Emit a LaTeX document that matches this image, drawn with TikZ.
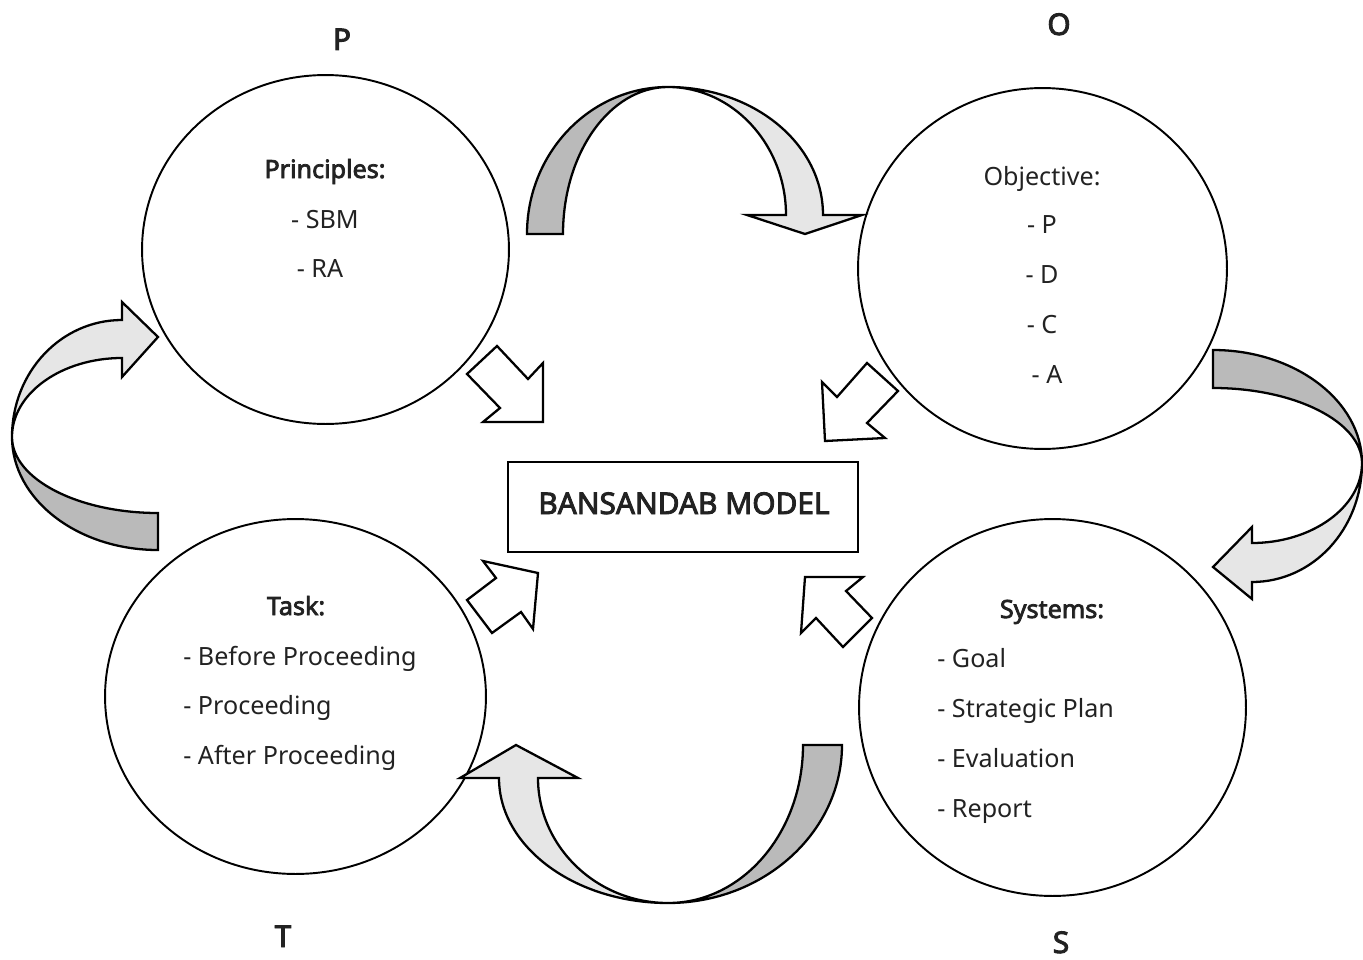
\documentclass[tikz,border=0pt]{standalone}
\usepackage{fontspec}
\setmainfont{Noto Sans}[AutoFakeBold=3]
\usetikzlibrary{shapes.geometric}
\definecolor{bandDark}{HTML}{BABABA}
\definecolor{bandLight}{HTML}{E6E6E6}
\definecolor{ink}{HTML}{222222}

\begin{document}
\begin{tikzpicture}
		[x=0.02cm, y=-0.02cm,
		circ/.style={draw, ellipse, line width=1.1pt, inner sep=0pt},
		item/.style={font=\fontsize{14.3}{17}\selectfont, text=ink, inner sep=0pt},
		head/.style={item, font=\fontsize{14.3}{17}\selectfont\bfseries},
		letter/.style={font=\fontsize{17}{20}\selectfont\bfseries, text=ink, inner sep=0pt},
		back/.style={fill=bandDark, draw, line width=1.3pt},
		front/.style={fill=bandLight, draw, line width=1.3pt},
		push/.style={fill=white, draw, line width=1.3pt}]
		\useasboundingbox (0,0) rectangle (1363,960);
		% the four parts
		\node[circ, minimum width=7.34cm, minimum height=6.98cm] (p) at (325.5,249.5) {};
		\node[circ, minimum width=7.38cm, minimum height=7.22cm] (o) at (1042.5,268.5) {};
		\node[circ, minimum width=7.62cm, minimum height=7.10cm] (t) at (295.5,696.5) {};
		\node[circ, minimum width=7.74cm, minimum height=7.54cm] (s) at (1052.5,707.5) {};
		\node[draw, line width=1.2pt, minimum width=7cm, minimum height=1.8cm] (model) at (683,507) {};
		% curved arrows P -> O -> S -> T -> P
		\draw[back] (527,234) .. controls (527,153) and (590,87) .. (668,87)
			.. controls (610,87) and (563,153) .. (563,234) -- cycle;
		\draw[front] (668,87) .. controls (754,87) and (823,144) .. (823,215)
			-- (862,215) -- (805,234) -- (747,215) -- (786,215)
			.. controls (786,145) and (733,87) .. (668,87) -- cycle;
		\draw[back] (1213,350) .. controls (1295,350) and (1362,401) .. (1362,463)
			.. controls (1362,422) and (1295,388) .. (1213,388) -- cycle;
		\draw[front] (1362,463) .. controls (1362,529) and (1313,582) .. (1252,582)
			-- (1252,599) -- (1213,567) -- (1252,527) -- (1252,543)
			.. controls (1312,543) and (1362,507) .. (1362,463) -- cycle;
		\draw[back] (842,745) .. controls (842,832) and (764,903) .. (668,903)
			.. controls (743,903) and (803,832) .. (803,745) -- cycle;
		\draw[front] (668,903) .. controls (575,903) and (499,847) .. (499,778)
			-- (460,778) -- (516,745) -- (578,778) -- (538,778)
			.. controls (538,846) and (596,903) .. (668,903) -- cycle;
		\draw[back] (158,550) .. controls (77,550) and (12,499) .. (12,437)
			.. controls (12,479) and (78,513) .. (158,513) -- cycle;
		\draw[front] (12,437) .. controls (12,372) and (61,320) .. (122,320)
			-- (122,302) -- (158,337) -- (122,377) -- (122,358)
			.. controls (62,358) and (12,393) .. (12,437) -- cycle;
		% block arrows into the model
		\draw[push] (497,346) -- (528,379) -- (543,363) -- (543,422) -- (483,422) -- (500,408) -- (467,374) -- cycle;
		\draw[push] (867,363) -- (898,391) -- (867,423) -- (885,438) -- (825,441) -- (822,382) -- (837,397) -- cycle;
		\draw[push] (483,561) -- (538,573) -- (533,629) -- (521,612) -- (492,633) -- (467,600) -- (496,578) -- cycle;
		\draw[push] (805,577) -- (863,577) -- (846,591) -- (872,618) -- (843,647) -- (816,618) -- (801,633) -- cycle;
		% texts
		\node[font=\fontsize{17}{20}\selectfont\bfseries, text=ink, anchor=base] (title) at (684,514) {BANSANDAB MODEL};
		\node[letter, anchor=base] (lp) at (342,50) {P};
		\node[letter, anchor=base] (lo) at (1059,35) {O};
		\node[letter, anchor=base] (lt) at (283,947) {T};
		\node[letter, anchor=base] (ls) at (1061,953) {S};
		\node[head, anchor=base] (hp) at (325,178) {Principles:};
		\node[item, anchor=base] (p1) at (325,228) {- SBM};
		\node[item, anchor=base] (p2) at (320,277) {- RA};
		\node[item, anchor=base] (ho) at (1042,185) {Objective:};
		\foreach \txt/\xx [count=\i] in {P/1042, D/1042, C/1042, A/1047}
			\node[item, anchor=base] (o\i) at (\xx,{233+50*(\i-1)}) {- \txt};
		\node[head, anchor=base] (ht) at (296,615) {Task:};
		\foreach \txt [count=\i] in {Before Proceeding, Proceeding, After Proceeding}
			\node[item, anchor=base west] (t\i) at (183,{665+49.5*(\i-1)}) {- \txt};
		\node[head, anchor=base] (hs) at (1052,618) {Systems:};
		\foreach \txt [count=\i] in {Goal, Strategic Plan, Evaluation, Report}
			\node[item, anchor=base west] (s\i) at (937,{667+50*(\i-1)}) {- \txt};
	\end{tikzpicture}
\end{document}
